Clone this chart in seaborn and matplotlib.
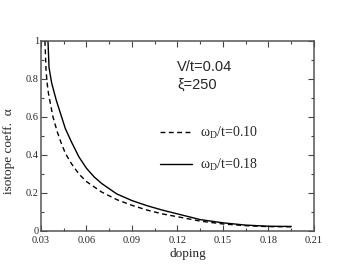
import numpy as np
import pandas as pd
import matplotlib
matplotlib.use("Agg")
import matplotlib.pyplot as plt
import seaborn as sns

# data
doping_a = [0.0346, 0.0353, 0.037, 0.040, 0.0436, 0.046, 0.050, 0.055, 0.060, 0.065,
            0.070, 0.080, 0.090, 0.100, 0.110, 0.120, 0.135, 0.150, 0.165, 0.180, 0.195]
alpha_a = [1.00, 0.86, 0.78, 0.69, 0.60, 0.54, 0.47, 0.39, 0.33, 0.285,
           0.25, 0.195, 0.16, 0.133, 0.11, 0.09, 0.060, 0.043, 0.031, 0.025, 0.024]   # omega_D/t = 0.18 (solid)

doping_b = [0.0326, 0.0333, 0.0340, 0.0350, 0.0379, 0.0408, 0.0430, 0.046, 0.050, 0.055,
            0.060, 0.070, 0.080, 0.090, 0.100, 0.110, 0.120, 0.135, 0.150, 0.165, 0.180, 0.195]
alpha_b = [1.00, 0.85, 0.78, 0.72, 0.60, 0.52, 0.47, 0.41, 0.355, 0.30,
           0.26, 0.205, 0.165, 0.135, 0.11, 0.09, 0.075, 0.052, 0.037, 0.028, 0.023, 0.022]  # omega_D/t = 0.10 (dashed)

x_ticks = [0.03, 0.06, 0.09, 0.12, 0.15, 0.18, 0.21]
x_tick_labels = ["0.03", "0.06", "0.09", "0.12", "0.15", "0.18", "0.21"]
y_ticks = [0, 0.2, 0.4, 0.6, 0.8, 1.0]
y_tick_labels = ["0", "0.2", "0.4", "0.6", "0.8", "1"]

sns.set_style("ticks")
plt.rcParams["font.family"] = ["Liberation Serif", "DejaVu Serif"]
plt.rcParams["mathtext.fontset"] = "custom"
plt.rcParams["mathtext.rm"] = "Liberation Serif"
plt.rcParams["mathtext.it"] = "Liberation Serif:italic"

fig = plt.figure(figsize=(3.54, 2.73), dpi=100)
ax = fig.add_axes([41/354, 1 - 231/273, (314-41)/354, (231-41)/273])

df_b = pd.DataFrame({"doping": doping_b, "alpha": alpha_b})
df_a = pd.DataFrame({"doping": doping_a, "alpha": alpha_a})
sns.lineplot(data=df_b, x="doping", y="alpha", ax=ax, color="black", lw=1.0,
             linestyle=(0, (3.5, 2.5)), sort=False, estimator=None, label="ω$_\\mathrm{D}$/t=0.10")
sns.lineplot(data=df_a, x="doping", y="alpha", ax=ax, color="black", lw=1.0,
             sort=False, estimator=None, label="ω$_\\mathrm{D}$/t=0.18")

ax.set_xlim(0.03, 0.21)
ax.set_ylim(0, 1)
ax.set_xticks(x_ticks)
ax.set_xticklabels(x_tick_labels)
ax.set_yticks(y_ticks)
ax.set_yticklabels(y_tick_labels)
ax.set_xticks(np.arange(0.045, 0.21, 0.03), minor=True)
ax.set_yticks(np.arange(0.1, 1.0, 0.2), minor=True)
ax.tick_params(which="both", direction="in", top=True, right=True, labelsize=7.5,
               color="#444444")
ax.tick_params(axis="y", pad=1.5)
ax.tick_params(axis="x", pad=3.5)
ax.tick_params(which="major", length=4, width=0.8)
ax.tick_params(which="minor", length=2.5, width=0.8)
for s in ax.spines.values():
    s.set_linewidth(1.1)
    s.set_color("#555555")

ax.set_xlabel("doping", fontsize=9.5)
ax.set_ylabel("isotope coeff.  α", fontsize=9.5)
ax.xaxis.set_label_coords((188-41)/273, -0.09)
ax.yaxis.set_label_coords(-0.095, 0.42)

ax.text((177-41)/273, (231-67)/190, "V/t=0.04", fontsize=10.5, family=["Liberation Sans"],
        transform=ax.transAxes, va="center", ha="left")
ax.text((177-41)/273, (231-85)/190, "ξ=250", fontsize=10.5, family=["Liberation Sans", "DejaVu Sans"],
        transform=ax.transAxes, va="center", ha="left")

leg = ax.legend(loc="upper left", bbox_to_anchor=((160-41)/273, (231-125)/190),
                frameon=False, fontsize=10, handlelength=2.3, handletextpad=0.6,
                labelspacing=1.15, borderaxespad=0, borderpad=0)

fig.savefig("out.png", dpi=100)
